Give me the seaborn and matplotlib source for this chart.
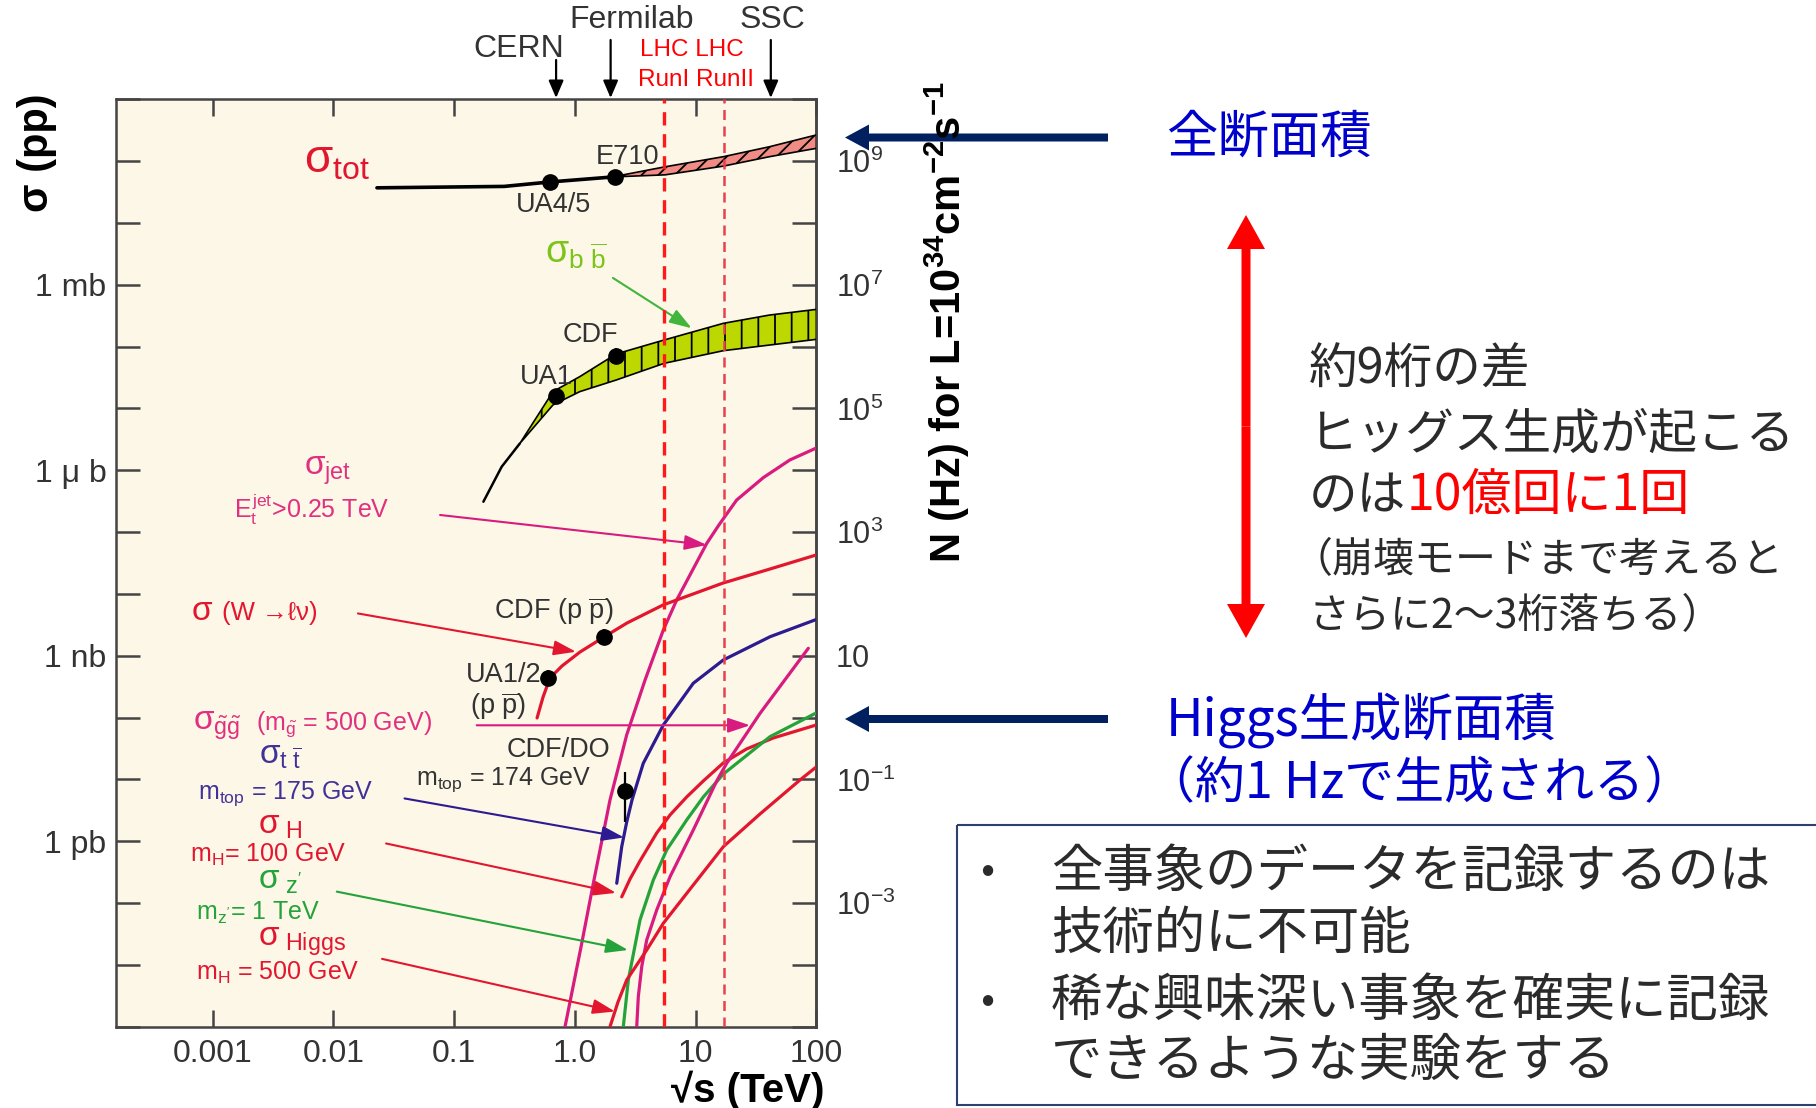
import numpy as np
import matplotlib
matplotlib.use("Agg")
import matplotlib.pyplot as plt
import seaborn as sns
from matplotlib import transforms
from matplotlib.patches import FancyArrow, Rectangle
from matplotlib.ticker import NullLocator

# ---------------- cross sections: sqrt(s) in TeV, sigma in mb ----------------
tot_line_s = [0.023, 0.26, 0.62, 2.2]
tot_line_sigma = [37, 39, 46, 56]
tot_band_s = [2.3, 5.6, 17, 41, 100]
tot_band_hi = [58, 81, 118, 171, 265]
tot_band_lo = [56, 60, 83, 118, 161]

bb_tail_s = [0.175, 0.248, 0.35]
bb_tail_sigma = [3.1e-4, 1.14e-3, 2.7e-3]
bb_band_s = [0.35, 0.66, 1.1, 2.2, 5.5, 17, 41, 100]
bb_band_hi = [2.7e-3, 0.0187, 0.0327, 0.076, 0.128, 0.238, 0.324, 0.40]
bb_band_lo = [2.7e-3, 0.0114, 0.0187, 0.0288, 0.0537, 0.0859, 0.106, 0.131]

jet_s = [0.83, 1.126, 1.442, 1.957, 2.69, 3.82, 5.41, 6.98, 12.4, 15.6, 21.9, 36.4, 60.5, 100]
jet_sigma = [1.0e-12, 1.95e-11, 2.36e-10, 4.65e-9, 5.24e-8, 4.06e-7, 2.61e-6, 7.98e-6,
             6.6e-5, 1.30e-4, 3.30e-4, 7.6e-4, 1.47e-3, 2.29e-3]

w_s = [0.487, 0.546, 0.623, 0.784, 1.105, 1.746, 2.71, 5.38, 16.9, 41.4, 100]
w_sigma = [9.86e-8, 2.15e-7, 4.37e-7, 6.84e-7, 1.15e-6, 2.01e-6, 3.39e-6, 6.62e-6,
           1.50e-5, 2.53e-5, 4.27e-5]

tt_s = [2.225, 2.447, 2.692, 2.978, 3.69, 5.41, 9.58, 17.0, 41.4, 100]
tt_sigma = [2.09e-10, 8.17e-10, 2.05e-9, 4.65e-9, 1.82e-8, 7.59e-8, 3.59e-7, 8.55e-7,
            2.03e-6, 3.86e-6]

h100_s = [2.447, 2.867, 3.468, 4.77, 6.15, 8.45, 11.6, 17.0, 26.5, 44.1, 100]
h100_sigma = [1.26e-10, 2.45e-10, 4.80e-10, 1.36e-9, 2.66e-9, 5.20e-9, 9.44e-9, 1.85e-8,
              3.11e-8, 4.68e-8, 7.59e-8]

zp_s = [2.522, 2.775, 3.468, 4.47, 5.77, 8.45, 11.6, 17.0, 41.4, 100]
zp_sigma = [1.0e-12, 5.70e-12, 5.33e-11, 2.36e-10, 7.23e-10, 2.21e-9, 5.20e-9, 1.22e-8,
            4.91e-8, 1.19e-7]

gl_s = [3.257, 3.357, 3.583, 3.941, 4.77, 6.15, 9.58, 14.97, 18.1, 34.2, 85.9]
gl_sigma = [1.0e-12, 3.06e-12, 9.35e-12, 2.53e-11, 7.73e-11, 2.67e-10, 1.52e-9, 9.44e-9,
            1.82e-8, 1.17e-7, 1.32e-6]

h500_s = [1.957, 2.279, 2.692, 3.941, 5.41, 9.58, 17.0, 34.2, 73.3, 100]
h500_sigma = [1.0e-12, 2.51e-12, 5.70e-12, 1.74e-11, 4.71e-11, 1.96e-10, 8.17e-10,
              2.76e-9, 9.79e-9, 1.59e-8]

# measured points: UA4/5, E710, UA1 (bb), CDF (bb), UA1/2 (W), CDF (W), CDF/D0 (tt)
pt_s = [0.62, 2.15, 0.70, 2.2, 0.60, 1.75, 2.61]
pt_sigma = [46, 56, 0.016, 0.070, 4.4e-7, 2.0e-6, 6.6e-9]
pt_lo = [43, 53, 0.012, 0.052, 3.4e-7, 1.5e-6, 2.05e-9]
pt_hi = [49, 59, 0.021, 0.094, 5.8e-7, 2.7e-6, 1.3e-8]

# accelerators and LHC runs
machine_names = ["CERN", "Fermilab", "SSC"]
machine_sqrt_s = [0.70, 1.98, 42]
lhc_runs_sqrt_s = [5.5, 17.2]

x_ticks = [1e-3, 1e-2, 1e-1, 1, 10, 100]
x_tick_labels = ["0.001", "0.01", "0.1", "1.0", "10", "100"]
y_ticks = [10.0 ** k for k in range(-12, 4)]
y_named = {1e0: "1 mb", 1e-3: "1 \u03bc b", 1e-6: "1 nb", 1e-9: "1 pb"}
rate_ticks = [1e9, 1e7, 1e5, 1e3, 1e1, 1e-1, 1e-3]
rate_labels = [r"$10^{9}$", r"$10^{7}$", r"$10^{5}$", r"$10^{3}$", "10",
               r"$10^{-1}$", r"$10^{-3}$"]

# ---------------- style ----------------
sns.set_theme(style="ticks")
plt.rcParams["font.family"] = ["Liberation Sans", "DejaVu Sans"]
plt.rcParams["mathtext.fontset"] = "custom"
plt.rcParams["mathtext.rm"] = "Liberation Sans"
plt.rcParams["mathtext.it"] = "Liberation Sans"
plt.rcParams["mathtext.sf"] = "Liberation Sans"
plt.rcParams["mathtext.bf"] = "Liberation Sans:bold"
plt.rcParams["hatch.linewidth"] = 1.3
JP = ["Noto Sans CJK JP", "DejaVu Sans"]

C_RED = "#e3162f"
C_MAG = "#d81b7f"
C_MAG_TXT = "#e0307f"
C_BLUE = "#2d1b8f"
C_BLUE_TXT = "#41329a"
C_GREEN = "#23a33a"
C_BB_TXT = "#7cc41a"
C_BB_ARROW = "#41b53c"
C_GRAY = "#333333"
C_DARK = "#2b2b2b"
C_NAVY = "#002060"

W, H = 1816, 1108
fig = plt.figure(figsize=(W / 100, H / 100), dpi=100)
fig.patch.set_facecolor("white")
ax = fig.add_axes([116.3 / W, 1 - 1026.7 / H, 700 / W, 927.4 / H])
ax.set_xscale("log")
ax.set_yscale("log")
ax.set_xlim(10 ** -3.797, 100)
ax.set_ylim(1e-12, 1e3)
ax.set_facecolor("#fdf7e7")

# ---------------- bands ----------------
ax.fill_between(tot_band_s, tot_band_lo, tot_band_hi, facecolor="#f08c84",
                edgecolor="black", hatch="//", linewidth=1.2, zorder=3)
ax.fill_between(bb_band_s, bb_band_lo, bb_band_hi, facecolor="#bcd800",
                edgecolor="black", hatch="|", linewidth=1.2, zorder=3)


def curve(s, sig, color, lw=2.3):
    sns.lineplot(x=s, y=sig, ax=ax, color=color, lw=lw, sort=False,
                 estimator=None, errorbar=None, legend=False, zorder=4)


curve(tot_line_s, tot_line_sigma, "black", lw=2.6)
curve(bb_tail_s, bb_tail_sigma, "black", lw=1.8)
curve(jet_s, jet_sigma, C_MAG)
curve(w_s, w_sigma, C_RED)
curve(tt_s, tt_sigma, C_BLUE)
curve(h100_s, h100_sigma, C_RED)
curve(zp_s, zp_sigma, C_GREEN)
curve(gl_s, gl_sigma, C_MAG)
curve(h500_s, h500_sigma, C_RED)

yerr = [np.subtract(pt_sigma, pt_lo), np.subtract(pt_hi, pt_sigma)]
ax.errorbar(pt_s, pt_sigma, yerr=yerr, fmt="o", color="black", ms=11,
            elinewidth=1.6, capsize=0, zorder=6)

for e, c, lw in zip(lhc_runs_sqrt_s, ["#ff1a1a", "#e8404e"], [2.4, 1.8]):
    ax.axvline(e, color=c, lw=lw, ls=(0, (4, 2.6)), zorder=7)

# pointers from the labels to their curves (sqrt(s), sigma)
pointers = [
    ((2.07, 1.29), (9.29, 0.198), C_BB_ARROW),
    ((0.0766, 1.89e-4), (12.4, 6.19e-5), C_MAG),
    ((0.0160, 4.83e-6), (1.023, 1.16e-6), C_RED),
    ((0.154, 7.5e-8), (28.3, 7.5e-8), C_MAG),
    ((0.0389, 4.92e-9), (2.556, 1.15e-9), C_BLUE),
    ((0.02735, 9.2e-10), (2.194, 1.46e-10), C_RED),
    ((0.01069, 1.53e-10), (2.76, 1.74e-11), C_GREEN),
    ((0.02536, 1.25e-11), (2.153, 1.76e-12), C_RED),
]
for start, end, col in pointers:
    ax.annotate("", xy=end, xytext=start,
                arrowprops=dict(arrowstyle="-|>,head_length=0.9,head_width=0.3",
                                color=col, lw=1.5, shrinkA=0, shrinkB=0,
                                mutation_scale=15), zorder=5)

# ---------------- axes ----------------
ax.set_xticks(x_ticks, labels=x_tick_labels)
ax.set_yticks(y_ticks, labels=[y_named.get(v, "") for v in y_ticks])
ax.xaxis.set_minor_locator(NullLocator())
ax.yaxis.set_minor_locator(NullLocator())
ax.tick_params(axis="both", which="major", direction="in", top=True, right=True,
               color="#444444", labelcolor=C_GRAY, width=1.8)
ax.tick_params(axis="x", length=12, labelsize=23, pad=9)
ax.tick_params(axis="y", length=17, labelsize=23, pad=7)
for sp in ax.spines.values():
    sp.set_color("#444444")
    sp.set_linewidth(1.8)

sec = ax.secondary_yaxis("right", functions=(lambda s: s * 1e7, lambda n: n / 1e7))
sec.set_yticks(rate_ticks, labels=rate_labels)
sec.yaxis.set_minor_locator(NullLocator())
sec.tick_params(length=0, pad=14, labelsize=22, labelcolor=C_GRAY)
sec.spines["right"].set_color("#444444")
sec.spines["right"].set_linewidth(1.8)

# ---------------- overlay in pixel units ----------------
ov = fig.add_axes([0, 0, 1, 1], facecolor="none")
ov.set_xlim(0, W)
ov.set_ylim(H, 0)
ov.axis("off")
ov.set_zorder(10)

blend = transforms.blended_transform_factory(ax.transData, ov.transData)
for name, e, y0 in zip(machine_names, machine_sqrt_s, [60, 40, 40]):
    ov.annotate("", xy=(e, 98), xycoords=blend, xytext=(e, y0), textcoords=blend,
                arrowprops=dict(arrowstyle="-|>,head_length=0.7,head_width=0.3",
                                color="black", lw=1.6, shrinkA=0, shrinkB=0,
                                mutation_scale=15))
ov.text(519, 49, "CERN", ha="center", va="center", fontsize=23, color=C_GRAY)
ov.text(632, 20, "Fermilab", ha="center", va="center", fontsize=23, color=C_GRAY)
ov.text(772, 20, "SSC", ha="center", va="center", fontsize=23, color=C_GRAY)
ov.text(692, 50, "LHC LHC", ha="center", va="center", fontsize=17.5, color="#ff0000")
ov.text(696, 80, "RunI RunII", ha="center", va="center", fontsize=17.5, color="#ff0000")

# axis titles
ov.text(37, 153, "\u03c3 (pp)", rotation=90, ha="center", va="center",
        fontsize=30, fontweight="bold", color="black")
ov.text(947, 322, r"N (Hz) for L=10$^{\mathbf{34}}$cm$^{\mathbf{-2}}$s$^{\mathbf{-1}}$",
        rotation=90, ha="center", va="center", fontsize=30, fontweight="bold",
        color="black")
ov.text(748, 1090, "\u221as (TeV)", ha="center", va="center", fontsize=29,
        fontweight="bold", color="black")

# curve labels
PT = 19.5   # experiment labels
SG = 24     # sigma symbols
SUB = 18    # mass / cut lines
ov.text(304, 172, r"$\sigma_{tot}$", fontsize=33, color=C_RED, va="baseline")
ov.text(627, 157, "E710", fontsize=PT, color=C_GRAY, ha="center", va="center")
ov.text(553, 205, "UA4/5", fontsize=PT, color=C_GRAY, ha="center", va="center")
ov.text(545, 263, r"$\sigma_{b\ \overline{b}}$", fontsize=27, color=C_BB_TXT, va="baseline")
ov.text(590, 335, "CDF", fontsize=PT, color=C_GRAY, ha="center", va="center")
ov.text(546, 377, "UA1", fontsize=PT, color=C_GRAY, ha="center", va="center")
ov.text(304, 475, r"$\sigma_{jet}$", fontsize=SG, color=C_MAG_TXT, va="baseline")
ov.text(234, 518, r"$E_{t}^{jet}$>0.25 TeV", fontsize=SUB, color=C_MAG_TXT, va="baseline")
ov.text(191, 620, r"$\sigma$", fontsize=SG, color=C_RED, va="baseline")
ov.text(222, 620, "(W \u2192\u2113\u03bd)", fontsize=18.5, color=C_RED, va="baseline")
ov.text(554, 611, r"CDF (p $\overline{p}$)", fontsize=PT, color=C_GRAY, ha="center", va="center")
ov.text(541, 675, "UA1/2", fontsize=PT, color=C_GRAY, ha="right", va="center")
ov.text(498, 706, r"(p $\overline{p}$)", fontsize=PT, color=C_GRAY, ha="center", va="center")
ov.text(193, 730, r"$\sigma_{\tilde{g}\tilde{g}}$", fontsize=SG, color=C_MAG_TXT, va="baseline")
ov.text(256, 730, r"(m$_{\tilde{g}}$ = 500 GeV)", fontsize=SUB, color=C_MAG_TXT, va="baseline")
ov.text(558, 750, "CDF/DO", fontsize=PT, color=C_GRAY, ha="center", va="center")
ov.text(416, 780, r"m$_{top}$ = 174 GeV", fontsize=SUB, color=C_GRAY, va="center")
ov.text(259, 764, r"$\sigma_{t\ \overline{t}}$", fontsize=SG, color=C_BLUE_TXT, va="baseline")
ov.text(198, 799, r"m$_{top}$ = 175 GeV", fontsize=SUB, color=C_BLUE_TXT, va="baseline")
ov.text(258, 834, r"$\sigma_{\ H}$", fontsize=SG, color=C_RED, va="baseline")
ov.text(190, 862, r"m$_{H}$= 100 GeV", fontsize=SUB, color=C_RED, va="baseline")
ov.text(258, 889, r"$\sigma_{\ z'}$", fontsize=SG, color=C_GREEN, va="baseline")
ov.text(196, 920, r"m$_{z'}$= 1 TeV", fontsize=SUB, color=C_GREEN, va="baseline")
ov.text(258, 946, r"$\sigma_{\ Higgs}$", fontsize=SG, color=C_RED, va="baseline")
ov.text(196, 980, r"m$_{H}$ = 500 GeV", fontsize=SUB, color=C_RED, va="baseline")

# ---------------- commentary on the right ----------------
for yy in (137.5, 719):
    ov.add_patch(FancyArrow(1108, yy, -263, 0, width=8, head_width=26, head_length=24,
                            length_includes_head=True, color=C_NAVY, lw=0))
mid = (215 + 638) / 2
for dy in (215 - mid, 638 - mid):
    ov.add_patch(FancyArrow(1246, mid, 0, dy, width=9, head_width=38, head_length=34,
                            length_includes_head=True, color="#ff0000", lw=0))

ov.text(1166, 138, "全断面積", family=JP, fontsize=37, color="#0000cc", va="center")
ov.text(1309, 370, "約9桁の差", family=JP, fontsize=35, color=C_DARK, va="center")
ov.text(1309, 435, "ヒッグス生成が起こる", family=JP, fontsize=35, color=C_DARK, va="center")
t_noha = ov.text(1309, 496, "のは", family=JP, fontsize=35, color=C_DARK, va="center")
ov.annotate("10億回に1回", xy=(1, 0.5), xycoords=t_noha, va="center", ha="left",
            family=JP, fontsize=36, color="#ff0000")
ov.text(1292, 561, "（崩壊モードまで考えると", family=JP, fontsize=29.5, color=C_DARK, va="center")
ov.text(1309, 617, "さらに2〜3桁落ちる）", family=JP, fontsize=29.5, color=C_DARK, va="center")

ov.text(1166, 720, "Higgs生成断面積", family=JP, fontsize=37, color="#0000cc", va="center")
ov.text(1145, 784, "（約1 Hzで生成される）", family=JP, fontsize=36, color="#0000cc", va="center")

ov.add_patch(Rectangle((957, 825), 900, 280, fill=False, edgecolor="#2c4170", lw=1.5))
for yy in (871, 1001):
    ov.text(987, yy, "•", family=JP, fontsize=30, color=C_DARK, ha="center", va="center")
box_lines = ["全事象のデータを記録するのは", "技術的に不可能",
             "稀な興味深い事象を確実に記録", "できるような実験をする"]
for yy, line in zip((872, 934, 1001, 1061), box_lines):
    ov.text(1051, yy, line, family=JP, fontsize=37, color=C_DARK, va="center")

fig.savefig("out.png", dpi=100)
